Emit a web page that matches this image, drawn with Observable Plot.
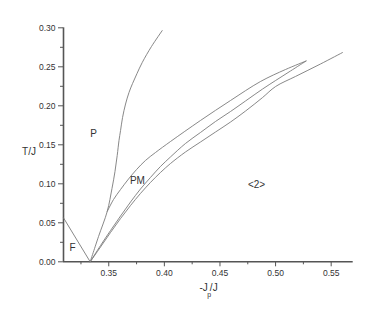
<!DOCTYPE html>
<html>
<head>
<meta charset="utf-8">
<script src="https://cdn.jsdelivr.net/npm/d3@7"></script>
<script src="https://cdn.jsdelivr.net/npm/@observablehq/plot@0.6"></script>
<style>
  html, body { margin: 0; padding: 0; background: #fff; }
</style>
</head>
<body>
<div id="chart"></div>
<script>
// Axis setup
const xDomain = [0.3093, 0.5698];
const yDomain = [0, 0.30];
const xMajorTicks = [0.35, 0.40, 0.45, 0.50, 0.55];
const xMinorTicks = [0.325, 0.375, 0.425, 0.475, 0.525];
const yMajorTicks = [0.00, 0.05, 0.10, 0.15, 0.20, 0.25, 0.30];
const yMinorTicks = [0.025, 0.075, 0.125, 0.175, 0.225, 0.275];

// Phase boundary curves
const fX = [0.3093, 0.3333];
const fY = [0.0564, 0.0];

const pX = [0.3333, 0.3408, 0.3486, 0.3529, 0.3556, 0.3576, 0.3592, 0.3606, 0.3624, 0.3651, 0.3682, 0.3714, 0.3754, 0.3801, 0.3884, 0.3981];
const pY = [0.0, 0.0324, 0.0645, 0.0940, 0.1158, 0.1363, 0.1555, 0.1683, 0.1850, 0.2023, 0.2171, 0.2286, 0.2414, 0.2555, 0.2760, 0.2965];

const pmX = [0.3486, 0.3543, 0.3606, 0.3678, 0.3750, 0.3830, 0.3920, 0.4055, 0.4325, 0.4595, 0.4865, 0.5089, 0.5274];
const pmY = [0.0645, 0.0799, 0.0927, 0.1062, 0.1183, 0.1299, 0.1401, 0.1542, 0.1812, 0.2068, 0.2312, 0.2465, 0.2574];

const midX = [0.3333, 0.3426, 0.3516, 0.3606, 0.3696, 0.3785, 0.3875, 0.3965, 0.4055, 0.4190, 0.4325, 0.4460, 0.4595, 0.4730, 0.4883, 0.5000, 0.5134, 0.5274];
const midY = [0.0, 0.0209, 0.0401, 0.0587, 0.0767, 0.0933, 0.1081, 0.1222, 0.1344, 0.1517, 0.1658, 0.1799, 0.1927, 0.2062, 0.2215, 0.2324, 0.2446, 0.2574];

const lowX = [0.3333, 0.3426, 0.3516, 0.3606, 0.3696, 0.3785, 0.3875, 0.3965, 0.4055, 0.4190, 0.4325, 0.4460, 0.4595, 0.4730, 0.4883, 0.5000, 0.5179, 0.5404, 0.5602];
const lowY = [0.0, 0.0190, 0.0376, 0.0555, 0.0722, 0.0876, 0.1017, 0.1145, 0.1260, 0.1408, 0.1536, 0.1664, 0.1792, 0.1933, 0.2106, 0.2247, 0.2376, 0.2536, 0.2683];

// Region labels
const labelText = ["P", "PM", "<2>", "F"];
const labelX = [0.3363, 0.3758, 0.4829, 0.3174];
const labelY = [0.1645, 0.1042, 0.0991, 0.0183];

function series(name, xs, ys) {
  return xs.map((x, i) => ({name, x, y: ys[i]}));
}
const curves = [
  ...series("F", fX, fY),
  ...series("P", pX, pY),
  ...series("PM", pmX, pmY),
  ...series("mid", midX, midY),
  ...series("low", lowX, lowY)
];
const labels = labelText.map((t, i) => ({t, x: labelX[i], y: labelY[i]}));

const fmt = d3.format(".2f");
const axisColor = "#555";
const textColor = "#333";

const chart = Plot.plot({
  width: 374,
  height: 321,
  marginLeft: 63,
  marginRight: 21.3,
  marginTop: 27.3,
  marginBottom: 59.7,
  x: {domain: xDomain},
  y: {domain: yDomain},
  style: {fontFamily: "'Liberation Sans', Arial, sans-serif", fontSize: "8.5px", color: textColor, background: "#fff"},
  marks: [
    Plot.axisX({ticks: xMajorTicks, tickSize: 5, tickPadding: 3, tickFormat: fmt, label: null, stroke: axisColor, fill: textColor}),
    Plot.axisX({ticks: xMinorTicks, tickSize: 3, tickFormat: () => "", label: null, stroke: axisColor}),
    Plot.axisY({ticks: yMajorTicks, tickSize: 5, tickPadding: 3, tickFormat: fmt, label: null, stroke: axisColor, fill: textColor}),
    Plot.axisY({ticks: yMinorTicks, tickSize: 3, tickFormat: () => "", label: null, stroke: axisColor}),
    Plot.ruleY([yDomain[0]], {stroke: axisColor, strokeWidth: 1.6}),
    Plot.ruleX([xDomain[0]], {stroke: axisColor, strokeWidth: 1.6}),
    Plot.line(curves, {x: "x", y: "y", z: "name", stroke: "#7a7a7a", strokeWidth: 0.9, curve: "catmull-rom"}),
    Plot.text(labels, {x: "x", y: "y", text: "t", fontSize: 10, fill: textColor}),
    Plot.text(["T/J"], {frameAnchor: "left", dx: -34.5, dy: 6.7, textAnchor: "middle", fontSize: 10, fill: textColor}),
    Plot.text(["-J"], {frameAnchor: "bottom", dx: -0.5, dy: 29, textAnchor: "end", fontSize: 10, fill: textColor}),
    Plot.text(["p"], {frameAnchor: "bottom", dx: 0.8, dy: 35, textAnchor: "middle", fontSize: 7, fill: textColor}),
    Plot.text(["/J"], {frameAnchor: "bottom", dx: 1.5, dy: 29, textAnchor: "start", fontSize: 10, fill: textColor})
  ]
});
document.getElementById("chart").appendChild(chart);
</script>
</body>
</html>
